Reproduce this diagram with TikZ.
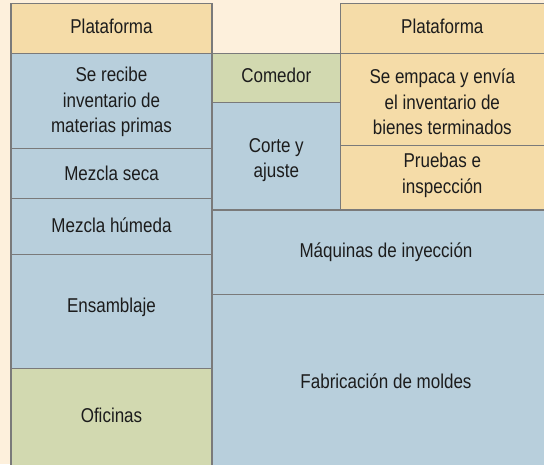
\documentclass[tikz,border=0pt]{standalone}
\usepackage{fontspec}
\setmainfont{Liberation Sans}[FakeStretch=0.85]
\definecolor{bgcream}{HTML}{FDF0DC}
\definecolor{boxblue}{HTML}{B8CFDC}
\definecolor{boxorange}{HTML}{F5DCA8}
\definecolor{boxgreen}{HTML}{D2D9B0}
\definecolor{edgegray}{HTML}{7A7A7A}
\definecolor{txt}{HTML}{1C1C1C}
\begin{document}
\begin{tikzpicture}[x=1pt,y=-1pt,
  area/.style={draw=edgegray,line width=1.1pt,inner sep=0pt},
  lbl/.style={text=txt,font=\fontsize{20}{25.5}\selectfont,align=center}]
\useasboundingbox (0,0) rectangle (544,464);
\fill[bgcream] (0,0) rectangle (544,464);
\clip (0,0) rectangle (544,464);
% areas
\path[area,fill=boxorange] (11,3.5) rectangle (212,53.3);
\path[area,fill=boxblue] (11,53.3) rectangle (212,148.3);
\path[area,fill=boxblue] (11,148.3) rectangle (212,198.3);
\path[area,fill=boxblue] (11,198.3) rectangle (212,254.7);
\path[area,fill=boxblue] (11,254.7) rectangle (212,368.3);
\path[area,fill=boxgreen] (11,368.3) rectangle (212,470);
\path[area,fill=boxgreen] (212,53.3) rectangle (340.7,102.7);
\path[area,fill=boxblue] (212,102.7) rectangle (340.7,210);
\path[area,fill=boxorange] (340.7,3.5) rectangle (550,53.3);
\path[area,fill=boxorange] (340.7,53.3) rectangle (550,145.7);
\path[area,fill=boxorange] (340.7,145.7) rectangle (550,210);
\path[area,fill=boxblue] (212,210) rectangle (550,294.7);
\path[area,fill=boxblue] (212,294.7) rectangle (550,470);
% labels
\node[lbl] (platl) at (111.5,26) {Plataforma};
\node[lbl] (recibe) at (111.5,102) {Se recibe\\inventario de\\materias primas};
\node[lbl] (seca) at (111.5,173) {Mezcla seca};
\node[lbl] (humeda) at (111.5,225) {Mezcla húmeda};
\node[lbl] (ensam) at (111.5,307) {Ensamblaje};
\node[lbl] (ofic) at (111.5,415) {Oficinas};
\node[lbl] (comedor) at (276.3,75) {Comedor};
\node[lbl] (corte) at (276.3,160) {Corte y\\ajuste};
\node[lbl] (platr) at (442.3,26) {Plataforma};
\node[lbl] (empaca) at (442.3,102) {Se empaca y envía\\el inventario de\\bienes terminados};
\node[lbl] (pruebas) at (442.3,175.5) {Pruebas e\\inspección};
\node[lbl] (maq) at (386,252) {Máquinas de inyección};
\node[lbl] (fab) at (386,381) {Fabricación de moldes};
\end{tikzpicture}
\end{document}
